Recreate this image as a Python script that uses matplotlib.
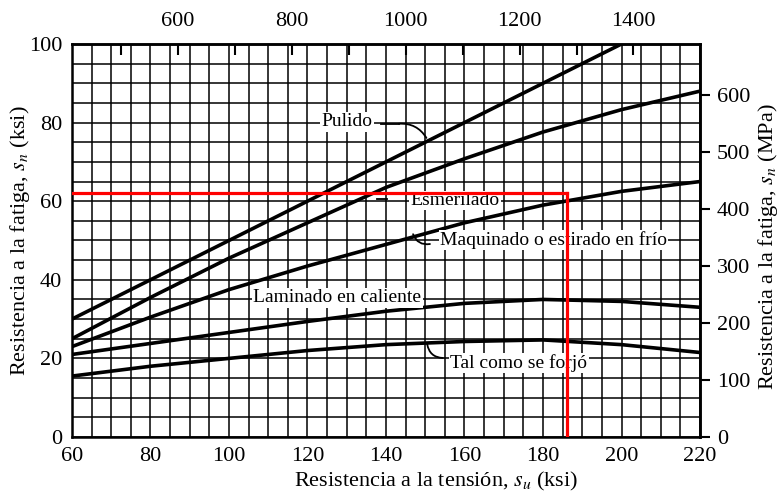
import numpy as np
import matplotlib.pyplot as plt

plt.rcParams['font.family'] = ['Liberation Serif', 'DejaVu Serif']
plt.rcParams['mathtext.fontset'] = 'stix'

# datos (ksi)
su_pulido = [60, 200]
sn_pulido = [30, 100]

su = [60, 80, 100, 120, 140, 160, 180, 200, 220]
sn_esmerilado = [25, 35.5, 45.5, 54.5, 63.5, 70.8, 77.6, 83.3, 88]
sn_maquinado = [23, 30.5, 37.5, 43.5, 49, 54.5, 59, 62.5, 65]
sn_laminado = [21, 23.8, 26.6, 29.4, 32, 34, 35, 34.5, 33]
sn_forjado = [15.5, 18, 20, 22, 23.5, 24.3, 24.7, 23.5, 21.5]

# lineas rojas de lectura
su_lectura = 186
sn_lectura = 62

ksi_a_mpa = 6.895

fig = plt.figure(figsize=(7.79, 4.93), dpi=100)
ax = fig.add_axes([0.0924, 0.1136, 0.8062, 0.7972])

ax.set_xlim(60, 220)
ax.set_ylim(0, 100)

# cuadricula cada 5 ksi
ax.set_xticks(np.arange(60, 221, 5), minor=True)
ax.set_yticks(np.arange(0, 101, 5), minor=True)
ax.set_xticks(np.arange(60, 221, 20))
ax.set_yticks(np.arange(0, 101, 20))
ax.grid(True, which='both', color='black', linewidth=1.1)
ax.tick_params(which='both', length=0, labelsize=16, pad=7)
for s in ax.spines.values():
    s.set_linewidth(1.8)

lw = 2.6
ax.plot(su_pulido, sn_pulido, color='black', lw=lw)
ax.plot(su, sn_esmerilado, color='black', lw=lw)
ax.plot(su, sn_maquinado, color='black', lw=lw)
ax.plot(su, sn_laminado, color='black', lw=lw)
ax.plot(su, sn_forjado, color='black', lw=lw)

# lectura en rojo
ax.plot([60, su_lectura], [sn_lectura, sn_lectura], color='red', lw=2.3, zorder=5)
ax.plot([su_lectura, su_lectura], [0, sn_lectura], color='red', lw=2.3, zorder=5)

# etiquetas de las curvas
bbox = dict(facecolor='white', edgecolor='none', pad=1)
fs = 14
leader = dict(arrowstyle='-', color='black', lw=1.3, shrinkA=0, shrinkB=0)

ax.text(130.1, 80.2, "Pulido", fontsize=fs, ha='center', va='center', bbox=bbox)
ax.plot([138.8, 143.3], [79.7, 79.7], color='black', lw=1.3)
ax.annotate("", xy=(150.3, 76.1), xytext=(143.3, 79.7),
            arrowprops=dict(leader, connectionstyle='arc3,rad=-0.3'))

ax.text(157.6, 60.2, "Esmerilado", fontsize=fs, ha='center', va='center', bbox=bbox)
ax.plot([137.7, 140.3], [60.6, 60.6], color='black', lw=1.3)

ax.text(182.7, 50.1, "Maquinado o estirado en frío", fontsize=fs, ha='center', va='center', bbox=bbox)
ax.annotate("", xy=(151.2, 49.1), xytext=(146.9, 51.6),
            arrowprops=dict(leader, connectionstyle='arc3,rad=0.4'))

ax.text(127.6, 35.4, "Laminado en caliente", fontsize=fs, ha='center', va='center', bbox=bbox)
ax.plot([147.5, 149.2], [35.3, 35.3], color='black', lw=1.3)

ax.text(173.8, 18.8, "Tal como se forjó", fontsize=fs, ha='center', va='center', bbox=bbox)
ax.annotate("", xy=(154.5, 20.1), xytext=(150.5, 23.6),
            arrowprops=dict(leader, connectionstyle='arc3,rad=0.4'))

ax.set_xlabel("Resistencia a la tensión, $s_u$ (ksi)", fontsize=16)
ax.xaxis.set_label_coords(0.58, -0.085)
ax.set_ylabel("Resistencia a la fatiga, $s_n$ (ksi)", fontsize=16)
ax.yaxis.set_label_coords(-0.083, 0.5)
ax.yaxis.label.set_va('center')

# eje superior en MPa
top = ax.secondary_xaxis('top', functions=(lambda x: x * ksi_a_mpa, lambda x: x / ksi_a_mpa))
top.set_xticks([600, 800, 1000, 1200, 1400])
top.set_xticks(np.arange(500, 1401, 100), minor=True)
top.tick_params(which='both', direction='in', length=8, width=1.5, labelsize=16, pad=9)
top.spines['top'].set_linewidth(1.8)

# eje derecho en MPa
der = ax.secondary_yaxis('right', functions=(lambda y: y * ksi_a_mpa, lambda y: y / ksi_a_mpa))
der.set_yticks(np.arange(0, 601, 100))
der.tick_params(direction='out', length=7, width=1.5, labelsize=16, pad=5)
der.spines['right'].set_linewidth(1.8)

fig.text(768 / 779, 0.5, "Resistencia a la fatiga, $s_n$ (MPa)", fontsize=16,
         rotation=90, ha='center', va='center')

fig.savefig("out.png", dpi=100)
